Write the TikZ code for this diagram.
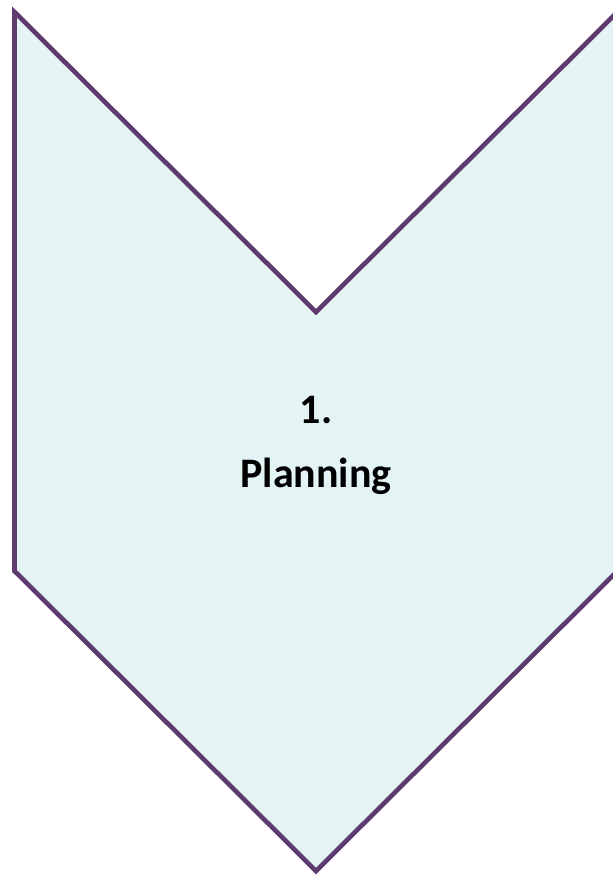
\documentclass[tikz,border=0pt]{standalone}
\usepackage{fontspec}
\setmainfont{Carlito}
\definecolor{chevfill}{RGB}{228,244,244}
\definecolor{chevline}{RGB}{94,58,110}
\begin{document}
\begin{tikzpicture}[x=1pt,y=-1pt,
  chevron/.style={draw=chevline,fill=chevfill,line width=4.6pt,line join=miter},
  lbl/.style={font=\fontsize{42}{50}\selectfont\bfseries,anchor=base,inner sep=0pt}]
\useasboundingbox (0,0) rectangle (613,876);
\begin{scope}
\clip (0,0) rectangle (613,876);
\draw[chevron] (14.5,12) -- (316,312) -- (617.5,12) -- (617.5,571) -- (316,871) -- (14.5,571) -- cycle;
\end{scope}
\node[lbl] (num) at (316,423) {1.};
\node[lbl] (name) at (316,487) {Planning};
\end{tikzpicture}
\end{document}
